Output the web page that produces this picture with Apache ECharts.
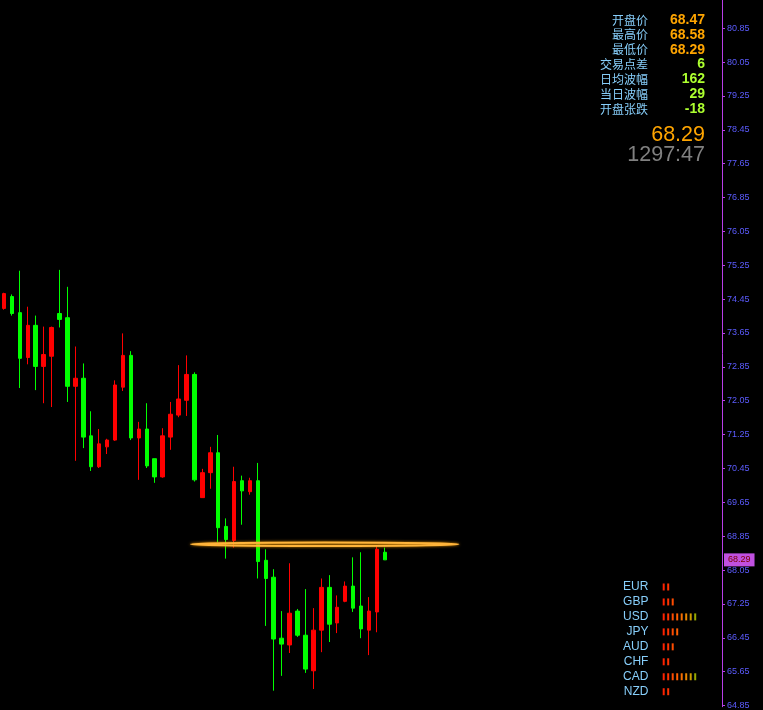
<!DOCTYPE html>
<html><head><meta charset="utf-8">
<script src="https://cdn.jsdelivr.net/npm/echarts@6/dist/echarts.min.js"></script>
<style>html,body{margin:0;padding:0;background:#000;}#c{width:763px;height:710px;}</style>
</head><body><div id="c"></div>
<script>
// ---- candle data (oldest -> newest) ----
const opens  = [74.23,74.51,74.13,73.07,73.83,72.86,73.10,74.11,74.01,72.39,72.58,71.22,70.49,70.96,71.12,72.37,73.12,71.17,71.38,70.68,70.25,71.19,71.71,72.06,72.67,69.76,70.35,70.82,69.08,68.75,70.16,69.90,70.16,68.28,67.88,66.44,66.28,67.08,66.51,65.67,66.63,67.64,66.80,67.31,67.67,67.20,66.63,67.06,68.47];
const closes = [74.58,74.11,73.05,73.83,72.86,73.14,73.78,73.97,72.39,72.58,71.19,70.49,71.03,71.12,72.42,73.12,71.17,71.38,70.51,70.25,71.22,71.73,72.09,72.67,70.18,70.35,70.82,69.05,68.77,70.14,69.92,70.16,68.25,67.85,66.42,66.30,67.03,66.51,65.71,66.63,67.64,66.77,67.17,67.67,67.15,66.66,67.08,68.54,68.29];
const lows   = [74.20,74.06,72.35,72.91,72.30,71.99,71.90,73.78,72.02,70.63,70.93,70.39,70.46,70.79,71.10,72.28,71.12,70.18,70.46,70.11,70.23,70.89,71.66,71.69,70.14,69.76,69.97,68.70,68.32,68.58,69.12,69.83,67.85,66.73,65.20,65.55,66.09,66.47,65.62,65.24,66.11,66.35,66.56,67.29,67.06,66.44,66.04,66.58,68.29];
const highs  = [74.60,74.56,75.12,74.27,74.06,73.80,73.80,75.14,74.74,73.33,72.93,71.80,71.38,71.15,72.53,73.64,73.22,71.55,71.99,70.68,71.40,72.02,72.89,73.12,72.72,70.44,70.96,71.24,69.27,70.49,70.28,70.23,70.58,68.54,68.07,67.08,68.21,67.13,67.60,67.15,67.85,67.93,67.45,67.78,68.35,68.47,67.41,68.61,68.58];
const slotCount = 91; // empty chart space to the right of the last bar
const priceTicks = [80.85,80.05,79.25,78.45,77.65,76.85,76.05,75.25,74.45,73.65,72.85,72.05,71.25,70.45,69.65,68.85,68.05,67.25,66.45,65.65,64.85];
const priceMin = 64.821, priceMax = 81.515;
const currentPrice = 68.29;
// ---- info panel ----
const infoLabels = ['开盘价','最高价','最低价','交易点差','日均波幅','当日波幅','开盘张跌'];
const infoValues = ['68.47','68.58','68.29','6','162','29','-18'];
const bigPrice = '68.29';
const timer = '1297:47';
// ---- currency strength ----
const currencies = ['EUR','GBP','USD','JPY','AUD','CHF','CAD','NZD'];
const strength = [2,3,8,4,3,2,8,2];
// ---- drawn ellipse object: [from slot, to slot, price] ----
const ellipseSpec = [23.57, 57.28, 68.66];

const levelColors = ['#ff2200','#ff3300','#ff4c00','#ff5e00','#f87000','#e88600','#cc9c00','#98a800'];

const categories = [];
for (let i = 0; i < slotCount; i++) categories.push(String(i));
const candleData = opens.map((o, i) => [o, closes[i], lows[i], highs[i]]);
const strengthPts = [];
currencies.forEach((c, i) => { for (let j = 0; j < strength[i]; j++) strengthPts.push([j, i]); });

const chart = echarts.init(document.getElementById('c'), null, {renderer: 'canvas'});
chart.setOption({
  backgroundColor: '#000000',
  animation: false,
  grid: [
    {left: -4.7, right: 41, top: 0, bottom: 0},
    {left: 661.45, width: 45, top: 579.5, height: 119.7}
  ],
  xAxis: [
    {type: 'category', data: categories, show: false, boundaryGap: true, gridIndex: 0},
    {type: 'value', min: -0.5, max: 9.5, show: false, gridIndex: 1}
  ],
  yAxis: [
    {type: 'value', position: 'right', min: priceMin, max: priceMax, gridIndex: 0,
     splitLine: {show: false},
     axisLine: {show: true, lineStyle: {color: '#b83ee8', width: 1}},
     axisTick: {show: true, length: 3, lineStyle: {color: '#b83ee8'}, customValues: priceTicks},
     axisLabel: {show: true, customValues: priceTicks, color: '#5c5cff', fontSize: 9, fontFamily: 'Liberation Sans', margin: 5,
                 formatter: v => v.toFixed(2)}},
    {type: 'category', data: currencies, inverse: true, gridIndex: 1,
     axisLine: {show: false}, axisTick: {show: false}, splitLine: {show: false},
     axisLabel: {interval: 0, color: '#87cefa', fontSize: 12, fontFamily: 'Liberation Sans', margin: 13}}
  ],
  series: [
    {type: 'candlestick', xAxisIndex: 0, yAxisIndex: 0, data: candleData, barWidth: 4, clip: false,
     itemStyle: {color: '#ff0000', color0: '#00ff00', borderColor: '#ff0000', borderColor0: '#00ff00', borderWidth: 1},
     markLine: {silent: true, symbol: 'none', data: [{yAxis: currentPrice}],
       lineStyle: {color: 'rgba(0,0,0,0)', width: 0},
       label: {show: true, position: 'end', distance: 2, formatter: currentPrice.toFixed(2),
               backgroundColor: '#c050e0', color: '#7a0000', fontSize: 9, fontFamily: 'Liberation Sans',
               padding: [2, 4, 2, 4]}}},
    {type: 'scatter', xAxisIndex: 1, yAxisIndex: 1, data: strengthPts, symbol: 'rect', symbolSize: [2, 7],
     itemStyle: {color: p => levelColors[p.data[0]], opacity: 1}}
  ]
});

// graphic overlay: info panel + ellipse placed through the axes
const g = [];
infoLabels.forEach((t, i) => {
  const y = 20 + i * 14.85;
  g.push({type: 'text', z: 50, style: {x: 648, y: y, text: t, fill: '#87cefa', font: '12px "Noto Sans CJK SC"', textAlign: 'right', textVerticalAlign: 'middle'}});
  g.push({type: 'text', z: 50, style: {x: 705, y: y, text: infoValues[i], fill: i < 3 ? '#ffa500' : '#adff2f', font: 'bold 14px "Liberation Sans"', textAlign: 'right', textVerticalAlign: 'middle'}});
});
g.push({type: 'text', z: 50, style: {x: 705, y: 135, text: bigPrice, fill: '#ffa500', font: '21.5px "Liberation Sans"', textAlign: 'right', textVerticalAlign: 'middle'}});
g.push({type: 'text', z: 50, style: {x: 705, y: 155, text: timer, fill: '#808080', font: '21.5px "Liberation Sans"', textAlign: 'right', textVerticalAlign: 'middle'}});
const p0 = chart.convertToPixel({xAxisIndex: 0, yAxisIndex: 0}, [0, ellipseSpec[2]]);
const p1 = chart.convertToPixel({xAxisIndex: 0, yAxisIndex: 0}, [1, ellipseSpec[2]]);
const band = p1[0] - p0[0];
const xL = p0[0] + band * ellipseSpec[0], xR = p0[0] + band * ellipseSpec[1];
g.push({type: 'ellipse', z: 100, shape: {cx: (xL + xR) / 2, cy: p0[1], rx: (xR - xL) / 2, ry: 1.7},
        style: {fill: 'none', stroke: '#ffb43a', lineWidth: 2, shadowBlur: 3, shadowColor: 'rgba(255,160,0,0.9)'}});
chart.setOption({graphic: g});
</script>
</body></html>
